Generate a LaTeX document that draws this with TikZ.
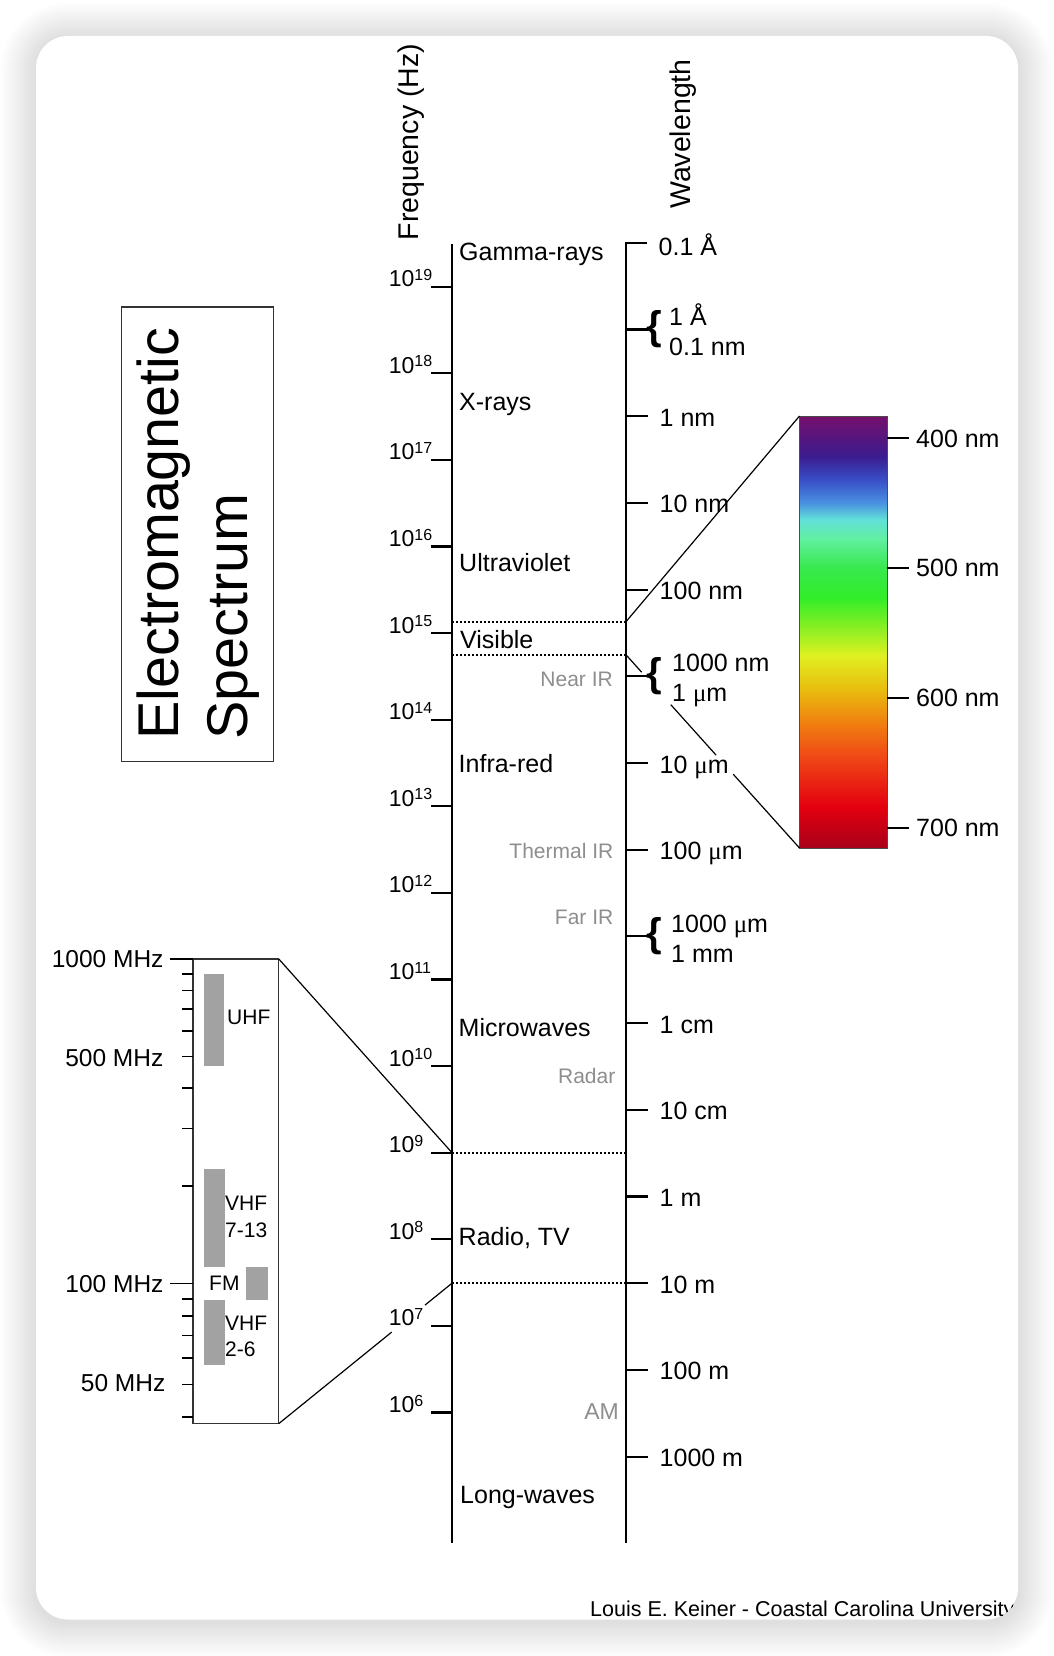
\documentclass[tikz,border=0pt]{standalone}
\usepackage{fontspec}
\setmainfont{Liberation Sans}
\newfontfamily\greekserif{Liberation Serif}
\usetikzlibrary{calc}
\newcommand\setfs[1]{\fontsize{#1}{#1}\selectfont}
\newcommand\mymu{{\greekserif μ}}
\newcommand\expo[1]{\raisebox{6.5pt}{\setfs{16}#1}}
\definecolor{lblgray}{HTML}{8E8E8E}
\definecolor{bargray}{HTML}{A2A2A2}
\pgfdeclareverticalshading{visspec}{100bp}{rgb(0bp)=(0.66,0,0.10); rgb(25bp)=(0.66,0,0.10); rgb(29.75bp)=(0.89,0,0.06); rgb(35.5bp)=(0.94,0.28,0.09); rgb(39.5bp)=(0.94,0.5,0.06); rgb(43.5bp)=(0.91,0.75,0.06); rgb(47.25bp)=(0.88,0.94,0.13); rgb(49bp)=(0.69,0.94,0.13); rgb(54bp)=(0.19,0.93,0.16); rgb(57.5bp)=(0.22,0.91,0.31); rgb(60.75bp)=(0.38,0.94,0.63); rgb(63bp)=(0.38,0.88,0.85); rgb(65bp)=(0.29,0.56,0.88); rgb(67.6bp)=(0.22,0.31,0.78); rgb(70.3bp)=(0.23,0.11,0.56); rgb(75bp)=(0.46,0.06,0.42); rgb(100bp)=(0.46,0.06,0.42)}
\begin{document}
\begin{tikzpicture}[x=1pt,y=-1pt,
  axisline/.style={line width=2.1pt},
  dotline/.style={line width=2pt, dash pattern=on 2pt off 2pt},
  zoomline/.style={line width=1.2pt},
  bandlbl/.style={font=\setfs{25}, anchor=base west, inner sep=0pt},
  sublbl/.style={font=\setfs{21}, text=lblgray, anchor=base east, inner sep=0pt},
  wllbl/.style={font=\setfs{25}, anchor=base west, inner sep=0pt},
  fqlbl/.style={font=\setfs{23}, anchor=base west, inner sep=0pt},
  mhzlbl/.style={font=\setfs{24.5}, anchor=base east, inner sep=0pt},
  boxlbl/.style={font=\setfs{21}, anchor=base west, inner sep=0pt},
  bracesym/.style={font=\setfs{40}\bfseries, anchor=west, inner sep=0pt},
  graybar/.style={fill=bargray, draw=none},
  frame/.style={draw=black!80, line width=1.3pt},
  titletxt/.style={font=\setfs{28.5}, rotate=90, anchor=base west, inner sep=0pt},
]
\useasboundingbox (0,0) rectangle (1054,1656);
\fill[white] (0,0) rectangle (1054,1656);
% shadow
\foreach \i in {1,...,16}{
  \fill[black, opacity=0.009, rounded corners={32pt+2.2pt*\i}]
    ({36-2.2*\i},{38-2.2*\i}) rectangle ({1018+2.2*\i},{1622+2.2*\i});
}
% card
\fill[white, rounded corners=32pt] (36,36) rectangle (1018,1619.5);
\begin{scope}
\clip[rounded corners=32pt] (36,36) rectangle (1018,1619.5);

% title box
\draw[frame] (121.5,307) rectangle (273.5,761.5);
\node[font=\setfs{57.5}, rotate=90, anchor=base west, inner sep=0pt] (title1) at (178,740) {Electromagnetic};
\node[font=\setfs{57.5}, rotate=90, anchor=base west, inner sep=0pt] (title2) at (247,740) {Spectrum};

% axis titles
\node[titletxt] (freqtitle) at (418.5,240.5) {Frequency (Hz)};
\node[titletxt] (wltitle) at (690,209) {Wavelength};

% axes
\coordinate (fTop) at (452,244);
\coordinate (fBot) at (452,1543);
\coordinate (wCorner) at (626,242.8);
\coordinate (wTopEnd) at (647,242.8);
\coordinate (wBot) at (626,1543);
\draw[axisline] (fTop) -- (fBot);
\draw[axisline] (wTopEnd) -- (wCorner) -- (wBot);

% frequency ticks
\foreach \n in {19,18,...,6}{
  \coordinate (f\n) at (452,{286.7+(19-\n)*86.6});
  \draw[axisline] (f\n) -- ++(-21,0);
}
% wavelength ticks
\foreach \k in {0,...,13}{
  \coordinate (w\k) at (626,{329.5+\k*86.7});
  \draw[axisline] (w\k) -- ++(22,0);
}

% dotted boundaries
\coordinate (visTopL) at (452,621.7);
\coordinate (visTopR) at (626,621.7);
\coordinate (visBotL) at (452,654.8);
\coordinate (visBotR) at (626,654.8);
\coordinate (radTopL) at (452,1152.7);
\coordinate (radTopR) at (626,1152.7);
\coordinate (radBotL) at (452,1283.2);
\coordinate (radBotR) at (626,1283.2);
\draw[dotline] (visTopL) -- (visTopR);
\draw[dotline] (visBotL) -- (visBotR);
\draw[dotline] (radTopL) -- (radTopR);
\draw[dotline] (radBotL) -- (radBotR);

% visible spectrum bar
\shade[shading=visspec] (799.5,416) rectangle (887,848);
\draw[black!70, line width=0.8pt] (799.5,416) rectangle (887,848);
\coordinate (barTL) at (799.5,416);
\coordinate (barBL) at (799.5,848);
\foreach \y/\t in {438.3/400, 567.7/500, 697.7/600, 827.7/700}{
  \coordinate (c\t) at (887,\y);
  \draw[axisline] (c\t) -- ++(21.5,0);
  \node[wllbl] (cl\t) at (916,{\y+9}) {\t\ nm};
}

% zoom lines (visible)
\draw[zoomline] (visTopR) -- (barTL);
\draw[zoomline] (visBotR) -- ($(visBotR)!0.09!(barBL)$)
  ($(visBotR)!0.258!(barBL)$) -- ($(visBotR)!0.519!(barBL)$)
  ($(visBotR)!0.618!(barBL)$) -- (barBL);

% radio box
\coordinate (boxTR) at (278.8,959);
\coordinate (boxBR) at (278.8,1423.6);
\fill[graybar] (203.5,974) rectangle (224,1065.5);
\fill[graybar] (203.5,1169) rectangle (224.5,1266.5);
\fill[graybar] (246,1267.3) rectangle (267.5,1300);
\fill[graybar] (203.5,1300) rectangle (224.5,1364.5);
\draw[frame] (193,959) rectangle (boxTR |- boxBR);
\foreach \f in {900,800,700,600,500,400,300,200}{
  \draw[line width=1.6pt] (193,{959+324.5*log10(1000/\f)}) -- ++(-11.5,0);
}
\foreach \f in {90,80,70,60,50,40}{
  \draw[line width=1.6pt] (193,{1283.5+335*log10(100/\f)}) -- ++(-11.5,0);
}
\draw[line width=1.6pt] (193,959) -- (170,959);
\draw[line width=1.6pt] (193,1283.5) -- (170,1283.5);
\node[mhzlbl] (m1000) at (163.7,967.7) {1000 MHz};
\node[mhzlbl] (m500) at (163.5,1066.7) {500 MHz};
\node[mhzlbl] (m100) at (163.7,1292.5) {100 MHz};
\node[mhzlbl] (m50) at (165.5,1391) {50 MHz};
\node[boxlbl] (uhf) at (227,1024.5) {UHF};
\node[boxlbl] (vhfa) at (225,1210.5) {VHF};
\node[boxlbl] (vhfa2) at (225,1237) {7-13};
\node[boxlbl] (fm) at (209,1290.5) {FM};
\node[boxlbl] (vhfb) at (225,1330) {VHF};
\node[boxlbl] (vhfb2) at (225,1356) {2-6};

% zoom lines (radio)
\draw[zoomline] (boxTR) -- (radTopL);
\draw[zoomline] (radBotL) -- ($(radBotL)!0.156!(boxBR)$)
  ($(radBotL)!0.348!(boxBR)$) -- (boxBR);

% frequency labels
\foreach \n in {19,18,...,6}{
  \node[fqlbl] (fl\n) at ($(f\n)+(-63.4,0)$) {10\expo{\n}};
}

% band labels
\node[bandlbl] (gamma) at (459,260.5) {Gamma-rays};
\node[bandlbl] (xray) at (459,410) {X-rays};
\node[bandlbl] (uv) at (459,571) {Ultraviolet};
\node[bandlbl] (vis) at (460,648) {Visible};
\node[bandlbl] (ir) at (458.5,772) {Infra-red};
\node[bandlbl] (micro) at (458.5,1036.5) {Microwaves};
\node[bandlbl] (radio) at (458.5,1245.5) {Radio, TV};
\node[bandlbl] (longw) at (460,1503) {Long-waves};

% sub-band labels
\node[sublbl] (nearir) at (613,686.5) {Near IR};
\node[sublbl] (thermir) at (613.5,858) {Thermal IR};
\node[sublbl] (farir) at (613.5,924.5) {Far IR};
\node[sublbl] (radar) at (615.5,1083) {Radar};
\node[sublbl, font=\setfs{23}] (am) at (619,1419) {AM};

% wavelength labels
\node[wllbl] (l01A) at (658.5,255.5) {0.1 Å};
\foreach \k/\t in {1/1 nm, 2/10 nm, 3/100 nm, 5/10 \mymu m, 6/100 \mymu m, 8/1 cm, 9/10 cm, 10/1 m, 11/10 m, 12/100 m, 13/1000 m}{
  \node[wllbl] (wl\k) at ($(w\k)+(33.5,10)$) {\t};
}
% braces
\node[bracesym] (br0) at ($(w0)+(20.5,0)$) {\{};
\node[bracesym] (br4) at ($(w4)+(20.5,0)$) {\{};
\node[bracesym] (br7) at ($(w7)+(20.5,0)$) {\{};
\node[wllbl] (b0a) at ($(w0)+(43,-4)$) {1 Å};
\node[wllbl] (b0b) at ($(w0)+(43,26)$) {0.1 nm};
\node[wllbl] (b4a) at ($(w4)+(46,-4.5)$) {1000 nm};
\node[wllbl] (b4b) at ($(w4)+(46,25.5)$) {1 \mymu m};
\node[wllbl] (b7a) at ($(w7)+(45,-3.5)$) {1000 \mymu m};
\node[wllbl] (b7b) at ($(w7)+(45,26.5)$) {1 mm};

% credit
\node[font=\setfs{21.5}, anchor=base west, inner sep=0pt] (credit) at (590,1616) {Louis E. Keiner - Coastal Carolina University};
\end{scope}
\end{tikzpicture}
\end{document}
